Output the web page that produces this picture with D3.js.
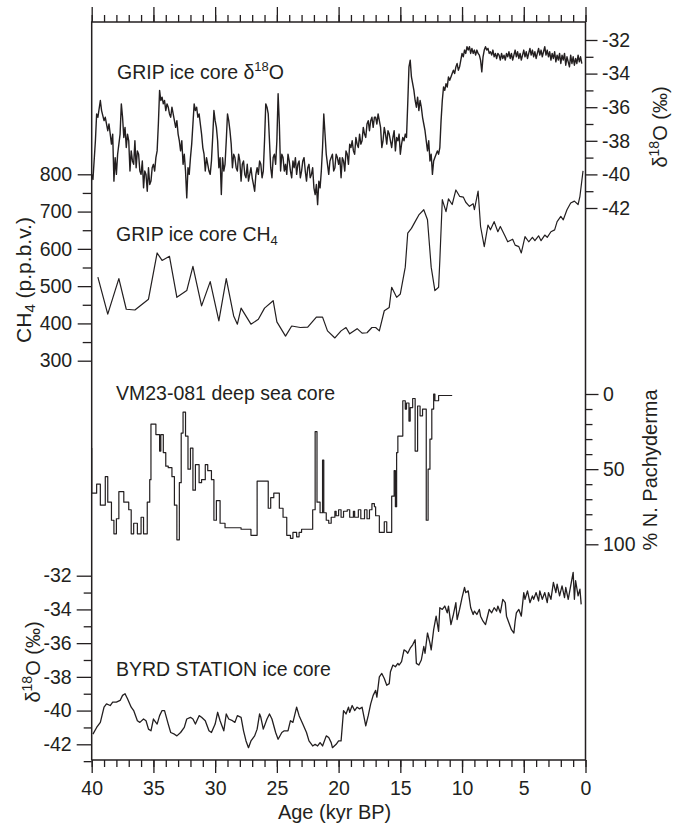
<!DOCTYPE html>
<html><head><meta charset="utf-8">
<script src="https://cdn.jsdelivr.net/npm/d3@7"></script>
<style>
body{margin:0;background:#fff}
svg{display:block}
text{font-family:"Liberation Sans",Arial,Helvetica,sans-serif;fill:#231f20}
</style>
</head><body>
<svg id="c" width="674" height="826"></svg>
<script>
// ---------- DATA ----------
const ageMajorTicks = [40,35,30,25,20,15,10,5,0];
const ageMinorTicks = [40,39,38,37,36,35,34,33,32,31,30,29,28,27,26,25,24,23,22,21,20,19,18,17,16,15,14,13,12,11,10,9,8,7,6,5,4,3,2,1,0];
const gripMajorTicks = [-32,-34,-36,-38,-40,-42];
const gripMinorTicks = [-33,-35,-37,-39,-41];
const ch4MajorTicks = [800,700,600,500,400,300];
const ch4MinorTicks = [750,650,550,450,350];
const vmMajorTicks = [0,50,100];
const vmMinorTicks = [10,20,30,40,60,70,80,90];
const byrdMajorTicks = [-32,-34,-36,-38,-40,-42];
const byrdMinorTicks = [-33,-35,-37,-39,-41,-43];

// GRIP ice core d18O [age kyr BP, permil]
const gripD18O = [
[40.0,-40.0],[39.9,-40.3],[39.7,-38.0],[39.6,-36.4],[39.5,-36.6],[39.3,-35.6],[39.2,-36.2],[39.0,-36.8],[38.9,-36.6],[38.7,-37.4],[38.6,-37.0],[38.4,-38.2],[38.3,-37.6],[38.2,-40.4],[38.1,-39.0],[38.0,-40.0],[37.9,-38.8],[37.7,-37.6],[37.6,-35.8],[37.5,-36.6],[37.4,-37.8],[37.3,-37.2],[37.2,-38.4],[37.1,-37.6],[37.0,-38.0],[36.9,-39.8],[36.8,-38.6],[36.7,-39.2],[36.6,-39.4],[36.5,-38.0],[36.4,-39.6],[36.3,-38.6],[36.2,-38.8],[36.1,-39.8],[36.0,-40.0],[35.9,-39.2],[35.8,-40.8],[35.7,-39.8],[35.6,-40.0],[35.5,-41.0],[35.4,-39.6],[35.3,-40.6],[35.2,-40.4],[35.1,-39.6],[35.0,-39.4],[34.9,-39.8],[34.8,-39.0],[34.7,-38.6],[34.6,-37.0],[34.5,-35.0],[34.4,-35.6],[34.3,-35.4],[34.2,-35.8],[34.1,-35.6],[34.0,-36.2],[33.9,-35.8],[33.8,-36.0],[33.7,-36.4],[33.6,-36.6],[33.5,-36.0],[33.4,-36.4],[33.3,-36.8],[33.2,-37.2],[33.1,-36.8],[33.0,-37.6],[32.9,-38.0],[32.8,-38.6],[32.7,-38.0],[32.6,-39.4],[32.5,-38.8],[32.4,-39.8],[32.3,-41.4],[32.2,-39.6],[32.1,-40.0],[32.0,-39.0],[31.9,-38.2],[31.8,-37.0],[31.7,-35.8],[31.6,-36.2],[31.5,-36.0],[31.4,-36.6],[31.3,-36.4],[31.2,-37.0],[31.1,-37.6],[31.0,-38.4],[30.9,-38.8],[30.8,-39.8],[30.7,-39.0],[30.6,-39.4],[30.5,-39.8],[30.4,-40.0],[30.3,-39.2],[30.2,-37.8],[30.1,-36.2],[30.0,-36.8],[29.9,-37.2],[29.8,-38.0],[29.7,-39.6],[29.6,-39.0],[29.5,-41.2],[29.4,-39.0],[29.3,-39.8],[29.2,-39.4],[29.1,-38.0],[29.0,-36.4],[28.9,-36.8],[28.8,-37.4],[28.7,-38.2],[28.6,-39.6],[28.5,-38.8],[28.4,-39.0],[28.3,-39.6],[28.2,-39.8],[28.1,-38.8],[28.0,-39.2],[27.9,-40.4],[27.8,-39.4],[27.7,-39.2],[27.6,-40.0],[27.5,-40.2],[27.4,-39.4],[27.3,-40.4],[27.2,-40.0],[27.1,-39.6],[27.0,-40.2],[26.9,-40.6],[26.8,-41.0],[26.7,-40.0],[26.6,-39.6],[26.5,-40.0],[26.4,-39.2],[26.3,-39.4],[26.2,-40.2],[26.1,-39.8],[26.0,-38.0],[25.9,-35.8],[25.8,-36.0],[25.7,-36.4],[25.6,-38.0],[25.5,-39.6],[25.4,-40.2],[25.3,-39.0],[25.2,-38.8],[25.1,-39.4],[25.0,-38.0],[24.9,-35.2],[24.8,-37.0],[24.7,-39.8],[24.6,-38.8],[24.5,-39.0],[24.4,-39.8],[24.3,-39.4],[24.2,-40.0],[24.1,-38.8],[24.0,-39.2],[23.9,-39.8],[23.8,-40.2],[23.7,-39.2],[23.6,-39.6],[23.5,-39.0],[23.4,-40.0],[23.3,-39.4],[23.2,-39.2],[23.1,-40.2],[23.0,-39.8],[22.9,-39.2],[22.8,-39.0],[22.7,-39.8],[22.6,-40.4],[22.5,-39.6],[22.4,-39.4],[22.3,-40.2],[22.2,-40.0],[22.1,-39.6],[22.0,-40.8],[21.9,-41.2],[21.8,-40.6],[21.7,-41.8],[21.6,-40.4],[21.5,-40.8],[21.4,-39.8],[21.3,-38.4],[21.2,-36.4],[21.1,-37.6],[21.0,-38.8],[20.9,-39.4],[20.8,-40.0],[20.7,-39.2],[20.6,-39.0],[20.5,-38.8],[20.4,-39.8],[20.3,-39.6],[20.2,-38.8],[20.1,-39.0],[20.0,-39.4],[19.9,-39.0],[19.8,-40.2],[19.7,-39.0],[19.6,-39.2],[19.5,-39.8],[19.4,-38.6],[19.3,-38.8],[19.2,-39.4],[19.1,-38.2],[19.0,-38.4],[18.9,-38.0],[18.8,-38.6],[18.7,-38.8],[18.6,-37.8],[18.5,-38.2],[18.4,-38.4],[18.3,-37.6],[18.2,-38.2],[18.1,-38.0],[18.0,-37.2],[17.9,-37.6],[17.8,-37.8],[17.7,-37.0],[17.6,-36.8],[17.5,-37.4],[17.4,-36.8],[17.3,-36.6],[17.2,-37.2],[17.1,-36.6],[17.0,-36.6],[16.9,-37.0],[16.8,-36.4],[16.7,-36.8],[16.6,-37.2],[16.5,-38.4],[16.4,-38.0],[16.3,-37.2],[16.2,-37.6],[16.1,-38.2],[16.0,-37.4],[15.9,-37.6],[15.8,-38.0],[15.7,-38.4],[15.6,-37.8],[15.5,-37.4],[15.4,-38.6],[15.3,-37.8],[15.2,-38.0],[15.1,-37.6],[15.0,-38.8],[14.9,-38.2],[14.8,-37.8],[14.7,-38.0],[14.6,-37.6],[14.5,-37.8],[14.4,-35.8],[14.3,-33.6],[14.2,-33.2],[14.1,-34.2],[14.0,-34.6],[13.9,-35.0],[13.8,-35.6],[13.7,-36.0],[13.6,-35.4],[13.5,-36.2],[13.4,-35.6],[13.3,-36.0],[13.2,-36.6],[13.1,-37.0],[13.0,-37.4],[12.9,-38.0],[12.8,-38.6],[12.7,-38.0],[12.6,-39.2],[12.5,-38.8],[12.4,-40.0],[12.3,-39.2],[12.2,-39.0],[12.1,-38.8],[12.0,-38.6],[11.9,-38.8],[11.8,-38.4],[11.7,-36.8],[11.6,-35.6],[11.5,-34.8],[11.4,-35.0],[11.3,-34.6],[11.2,-34.8],[11.1,-34.2],[11.0,-34.4],[10.9,-34.2],[10.8,-34.0],[10.7,-33.8],[10.6,-34.0],[10.5,-33.6],[10.4,-33.4],[10.3,-33.8],[10.2,-33.6],[10.1,-33.2],[10.0,-32.8],[9.9,-33.0],[9.8,-32.6],[9.7,-32.8],[9.6,-32.4],[9.5,-32.6],[9.4,-32.4],[9.3,-32.8],[9.2,-32.5],[9.1,-32.8],[9.0,-32.6],[8.9,-32.9],[8.8,-32.6],[8.7,-32.8],[8.6,-32.9],[8.5,-33.2],[8.4,-33.9],[8.3,-33.0],[8.2,-32.6],[8.1,-32.4],[8.0,-32.6],[7.9,-32.5],[7.8,-32.8],[7.7,-32.7],[7.6,-32.9],[7.5,-32.6],[7.4,-33.0],[7.3,-32.8],[7.2,-33.1],[7.1,-32.8],[7.0,-32.9],[6.9,-33.2],[6.8,-32.8],[6.7,-33.1],[6.6,-32.9],[6.5,-33.2],[6.4,-32.8],[6.3,-33.0],[6.2,-32.7],[6.1,-33.1],[6.0,-32.8],[5.9,-33.2],[5.8,-32.9],[5.7,-32.6],[5.6,-33.0],[5.5,-32.7],[5.4,-33.1],[5.3,-32.8],[5.2,-33.2],[5.1,-32.9],[5.0,-32.6],[4.9,-33.0],[4.8,-32.7],[4.7,-33.1],[4.6,-32.8],[4.5,-32.5],[4.4,-32.9],[4.3,-32.6],[4.2,-33.0],[4.1,-32.7],[4.0,-33.1],[3.9,-32.8],[3.8,-32.5],[3.7,-32.9],[3.6,-32.6],[3.5,-33.0],[3.4,-32.7],[3.3,-32.4],[3.2,-32.9],[3.1,-32.6],[3.0,-33.0],[2.9,-32.7],[2.8,-33.2],[2.7,-32.8],[2.6,-33.1],[2.5,-32.7],[2.4,-33.3],[2.3,-32.9],[2.2,-33.2],[2.1,-32.8],[2.0,-33.4],[1.9,-32.9],[1.8,-33.2],[1.7,-32.8],[1.6,-33.5],[1.5,-33.0],[1.4,-33.3],[1.3,-33.6],[1.2,-32.9],[1.1,-33.4],[1.0,-33.0],[0.9,-33.5],[0.8,-33.1],[0.7,-33.4],[0.6,-32.9],[0.5,-33.3],[0.4,-33.0],[0.3,-33.4]
];

// GRIP ice core CH4 [age kyr BP, ppbv]
const gripCH4 = [
[39.5,524],[38.7,425],[37.8,520],[37.2,438],[36.5,436],[35.4,465],[34.7,589],[34.3,569],[33.7,580],[33.1,470],[32.3,488],[31.8,553],[31.1,447],[30.4,512],[29.7,407],[29.1,520],[28.5,420],[28.2,398],[27.9,441],[27.1,398],[26.5,411],[26.0,441],[25.3,461],[25.0,404],[24.3,366],[23.8,393],[23.1,389],[22.5,390],[21.8,417],[21.3,417],[20.9,380],[20.3,361],[19.8,380],[19.4,389],[19.1,372],[18.5,386],[18.1,374],[17.7,375],[17.3,389],[17.0,389],[16.7,380],[16.3,434],[15.9,443],[15.7,497],[15.3,470],[15.0,479],[14.6,551],[14.4,642],[14.1,655],[13.8,673],[13.5,691],[13.1,705],[12.8,678],[12.5,551],[12.2,488],[11.9,497],[11.8,569],[11.6,732],[11.3,700],[11.1,734],[10.8,719],[10.5,758],[10.2,741],[9.9,739],[9.7,725],[9.4,714],[9.1,721],[9.0,705],[8.7,755],[8.5,660],[8.2,606],[7.9,664],[7.7,651],[7.4,673],[7.1,646],[6.9,660],[6.5,633],[6.3,619],[5.9,626],[5.7,610],[5.4,606],[5.2,589],[4.9,633],[4.6,619],[4.3,631],[4.1,622],[3.8,635],[3.6,622],[3.3,637],[3.1,631],[2.8,646],[2.5,651],[2.3,673],[2.0,687],[1.8,678],[1.5,705],[1.2,723],[0.9,728],[0.6,719],[0.45,741],[0.2,809]
];

// VM23-081 % N. pachyderma (step record) [age kyr BP, %]
const vm23 = [
[40.0,36],[40.0,66],[39.6,60],[39.3,74],[38.9,55],[38.7,72],[38.4,84],[38.2,93],[38.0,83],[37.8,65],[37.4,72],[37.0,77],[36.8,93],[36.6,86],[36.3,93],[36.0,82],[35.8,93],[35.5,72],[35.3,57],[35.2,20],[34.8,27],[34.5,38],[34.4,27],[34.2,39],[34.0,48],[33.8,49],[33.5,55],[33.3,74],[33.1,97],[32.9,59],[32.75,26],[32.6,12],[32.4,28],[32.2,50],[32.0,36],[31.8,64],[31.6,47],[31.3,59],[31.1,57],[30.8,47],[30.6,51],[30.3,57],[30.1,84],[29.9,71],[29.6,86],[29.2,89],[27.9,90],[27.1,94],[26.6,58],[25.7,76],[25.5,69],[25.25,66],[24.8,76],[24.5,82],[24.2,94],[23.9,96],[23.7,92],[23.4,95],[23.2,92],[23.0,90],[22.1,77],[21.9,25],[21.75,72],[21.5,79],[21.3,44],[21.2,79],[21.0,84],[20.8,86],[20.6,82],[20.3,78],[20.2,81],[20.0,77],[19.8,82],[19.6,78],[19.3,77],[19.1,82],[18.8,78],[18.7,82],[18.4,77],[18.2,83],[17.9,77],[17.7,83],[17.5,77],[17.3,73],[17.1,75],[17.0,81],[16.7,92],[16.3,85],[16.1,92],[15.7,68],[15.5,51],[15.4,75],[15.3,39],[15.2,28],[14.8,4.5],[14.6,10],[14.5,6],[14.3,18],[14.2,9],[14.0,3],[13.8,38],[13.6,8],[13.4,14.5],[13.2,10],[12.9,84],[12.75,50],[12.6,30],[12.45,10],[12.3,0],[12.2,4.5],[11.9,1],[11.6,1],[10.8,1]
];

// BYRD STATION ice core d18O [age kyr BP, permil]
const byrd = [
[39.9,-41.4],[39.6,-41.0],[39.3,-40.7],[39.0,-39.8],[38.8,-39.6],[38.5,-39.7],[38.3,-39.5],[38.0,-39.5],[37.7,-39.4],[37.5,-39.1],[37.3,-39.0],[37.1,-39.3],[36.8,-39.8],[36.6,-40.0],[36.3,-40.6],[36.1,-40.7],[35.8,-40.5],[35.6,-40.6],[35.4,-41.1],[35.2,-41.2],[35.0,-40.5],[34.7,-40.8],[34.5,-40.3],[34.3,-40.0],[34.1,-40.0],[33.8,-40.8],[33.6,-41.3],[33.3,-41.4],[33.1,-41.5],[32.8,-41.3],[32.5,-41.0],[32.3,-40.5],[32.0,-40.4],[31.8,-40.5],[31.6,-40.8],[31.3,-40.3],[31.1,-40.4],[30.8,-40.6],[30.5,-41.2],[30.3,-41.3],[30.0,-40.8],[29.8,-40.1],[29.6,-40.6],[29.3,-41.2],[29.1,-40.2],[28.9,-40.5],[28.6,-40.6],[28.4,-40.7],[28.2,-40.3],[27.9,-40.4],[27.7,-41.2],[27.5,-41.8],[27.3,-42.2],[27.1,-41.8],[26.8,-41.5],[26.6,-41.1],[26.4,-40.2],[26.3,-40.4],[26.1,-41.1],[25.8,-40.5],[25.6,-40.2],[25.4,-40.5],[25.1,-41.3],[24.9,-41.7],[24.6,-41.3],[24.4,-41.2],[24.1,-41.2],[23.9,-40.6],[23.7,-40.7],[23.4,-39.8],[23.2,-40.3],[22.9,-40.8],[22.6,-41.3],[22.4,-41.8],[22.1,-42.1],[21.9,-42.0],[21.7,-42.1],[21.5,-41.9],[21.3,-42.1],[21.0,-41.5],[20.8,-41.6],[20.6,-41.9],[20.5,-42.2],[20.2,-42.0],[20.0,-41.8],[19.8,-41.8],[19.6,-40.0],[19.4,-40.2],[19.2,-39.8],[19.1,-40.1],[18.9,-39.7],[18.7,-40.0],[18.5,-39.8],[18.3,-39.9],[18.1,-39.8],[17.8,-40.9],[17.6,-40.3],[17.4,-39.6],[17.2,-39.1],[17.0,-38.8],[16.9,-39.2],[16.7,-38.0],[16.5,-37.8],[16.3,-38.1],[16.1,-38.5],[15.9,-38.4],[15.8,-37.7],[15.6,-37.3],[15.4,-37.4],[15.2,-37.2],[15.1,-37.3],[14.9,-37.1],[14.7,-36.4],[14.5,-36.5],[14.4,-36.6],[14.2,-36.3],[14.0,-36.1],[13.8,-35.8],[13.7,-37.2],[13.5,-37.3],[13.3,-37.0],[13.1,-36.2],[13.0,-36.6],[12.8,-35.4],[12.6,-36.0],[12.5,-36.4],[12.3,-35.2],[12.1,-34.4],[11.9,-35.3],[11.8,-33.9],[11.6,-34.0],[11.4,-33.8],[11.2,-34.2],[11.1,-33.8],[10.9,-34.9],[10.7,-34.3],[10.5,-33.6],[10.4,-34.6],[10.2,-34.0],[10.0,-33.3],[9.8,-32.7],[9.7,-33.0],[9.5,-32.9],[9.3,-33.9],[9.1,-34.3],[9.0,-34.1],[8.8,-34.3],[8.6,-34.0],[8.5,-34.4],[8.3,-34.7],[8.1,-34.9],[7.9,-34.3],[7.8,-34.0],[7.6,-34.2],[7.4,-33.9],[7.2,-34.1],[7.1,-33.8],[6.9,-34.2],[6.7,-33.4],[6.5,-33.6],[6.4,-34.4],[6.2,-34.8],[6.0,-35.2],[5.8,-35.4],[5.7,-34.7],[5.6,-34.2],[5.4,-34.0],[5.2,-34.4],[5.0,-33.0],[4.9,-33.4],[4.7,-32.9],[4.5,-33.6],[4.3,-33.2],[4.2,-33.4],[4.0,-33.0],[3.8,-33.5],[3.7,-32.9],[3.5,-33.4],[3.3,-33.0],[3.1,-33.6],[3.0,-33.0],[2.8,-33.4],[2.6,-32.4],[2.4,-33.0],[2.3,-32.5],[2.1,-33.2],[1.9,-32.6],[1.7,-33.3],[1.6,-32.7],[1.4,-33.4],[1.2,-32.6],[1.0,-31.8],[0.9,-33.4],[0.8,-32.3],[0.6,-33.2],[0.45,-32.8],[0.35,-33.7]
];

// ---------- CHART ----------
const INK = "#231f20";
const svg = d3.select("#c");
const xL = 91.7, xR = 585.5, yTop = 22, yBot = 760;

const x = d3.scaleLinear().domain([40,0]).range([xL,xR]);
const yGrip = d3.scaleLinear().domain([-32,-42]).range([40,208]);
const yCH4 = d3.scaleLinear().domain([800,300]).range([174.3,360.7]);
const yVM = d3.scaleLinear().domain([0,100]).range([394,544.3]);
const yByrd = d3.scaleLinear().domain([-32,-42]).range([575.7,744.3]);

function styleAxis(g, fs){
  g.attr("font-family",null).attr("font-size",null);
  g.select(".domain").remove();
  g.selectAll("line").attr("stroke",INK).attr("stroke-width",1.3);
  g.selectAll("text").attr("fill",INK).style("font-size",fs+"px");
  return g;
}
function addAxis(axis, tx, ty, fs){
  const g = svg.append("g").attr("transform",`translate(${tx},${ty})`).call(axis);
  return styleAxis(g, fs||19.5);
}
const fmt = d => String(d);

// Age axes (top: ticks only; bottom: labelled)
addAxis(d3.axisTop(x).tickValues(ageMinorTicks).tickSize(7).tickFormat(""),0,yTop);
addAxis(d3.axisTop(x).tickValues(ageMajorTicks).tickSize(15).tickFormat(""),0,yTop);
addAxis(d3.axisBottom(x).tickValues(ageMinorTicks).tickSize(7).tickFormat(""),0,yBot);
addAxis(d3.axisBottom(x).tickValues(ageMajorTicks).tickSize(13).tickPadding(8).tickFormat(fmt),0,yBot);

// GRIP d18O right axis
addAxis(d3.axisRight(yGrip).tickValues(gripMinorTicks).tickSize(8).tickFormat(""),xR,0);
addAxis(d3.axisRight(yGrip).tickValues(gripMajorTicks).tickSize(12).tickPadding(4.5).tickFormat(fmt),xR,0);
// CH4 left axis
addAxis(d3.axisLeft(yCH4).tickValues(ch4MinorTicks).tickSize(9).tickFormat(""),xL,0);
addAxis(d3.axisLeft(yCH4).tickValues(ch4MajorTicks).tickSize(14).tickPadding(5.5).tickFormat(fmt),xL,0);
// VM23 right axis
addAxis(d3.axisRight(yVM).tickValues(vmMinorTicks).tickSize(7).tickFormat(""),xR,0);
addAxis(d3.axisRight(yVM).tickValues(vmMajorTicks).tickSize(13).tickPadding(4.5).tickFormat(fmt),xR,0);
// BYRD left axis
addAxis(d3.axisLeft(yByrd).tickValues(byrdMinorTicks).tickSize(8).tickFormat(""),xL,0);
addAxis(d3.axisLeft(yByrd).tickValues(byrdMajorTicks).tickSize(15).tickPadding(5).tickFormat(fmt),xL,0);

// Frame
svg.append("path")
  .attr("d",`M${xL},${yBot}V${yTop}H${xR}V${yBot}H${xL}`)
  .attr("fill","none").attr("stroke",INK).attr("stroke-width",1.5);

// Series
function drawLine(data, ys, curve, w){
  svg.append("path").datum(data)
    .attr("fill","none").attr("stroke",INK).attr("stroke-width",w).attr("stroke-linejoin","round")
    .attr("d", d3.line().x(d=>x(d[0])).y(d=>ys(d[1])).curve(curve));
}
drawLine(gripD18O, yGrip, d3.curveLinear, 1.4);
drawLine(gripCH4, yCH4, d3.curveLinear, 1.2);
drawLine(vm23, yVM, d3.curveStepAfter, 1.2);
drawLine(byrd, yByrd, d3.curveLinear, 1.3);

// Series labels
const lf = 19.5;
let t = svg.append("text").attr("x",117).attr("y",79).style("font-size",lf+"px");
t.append("tspan").text("GRIP ice core δ");
t.append("tspan").text("18").style("font-size","13px").attr("dy",-8);
t.append("tspan").text("O").attr("dy",8);

t = svg.append("text").attr("x",116).attr("y",241).style("font-size",lf+"px");
t.append("tspan").text("GRIP ice core CH");
t.append("tspan").text("4").style("font-size","13px").attr("dy",4);

svg.append("text").attr("x",116).attr("y",400).style("font-size",lf+"px").text("VM23-081 deep sea core");
svg.append("text").attr("x",116).attr("y",676).style("font-size",lf+"px").text("BYRD STATION ice core");

// Axis titles
const af = 20;
svg.append("text").attr("x",(xL+xR)/2 - 4).attr("y",819).attr("text-anchor","middle").style("font-size",af+"px").text("Age (kyr BP)");

t = svg.append("text").attr("transform","translate(31,280) rotate(-90)").attr("text-anchor","middle").style("font-size","21px");
t.append("tspan").text("CH");
t.append("tspan").text("4").style("font-size","15px").attr("dy",4);
t.append("tspan").text(" (p.p.b.v.)").attr("dy",-4);

function d18Title(tx, ty){
  const tt = svg.append("text").attr("transform",`translate(${tx},${ty}) rotate(-90)`).attr("text-anchor","middle").style("font-size",af+"px");
  tt.append("tspan").text("δ");
  tt.append("tspan").text("18").style("font-size","14px").attr("dy",-8);
  tt.append("tspan").text("O (‰)").attr("dy",8);
}
d18Title(667,127);
d18Title(40,662);

svg.append("text").attr("transform","translate(657,470) rotate(-90)").attr("text-anchor","middle").style("font-size",af+"px").text("% N. Pachyderma");
</script>
</body></html>
